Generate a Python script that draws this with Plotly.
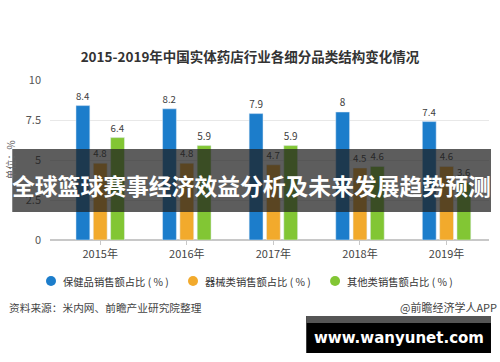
import plotly.graph_objects as go

years = ["2015年", "2016年", "2017年", "2018年", "2019年"]
health = [8.4, 8.2, 7.9, 8.0, 7.4]
device = [4.8, 4.8, 4.7, 4.5, 4.6]
other = [6.4, 5.9, 5.9, 4.6, 3.6]
names = ["保健品销售额占比 ( % )", "器械类销售额占比 ( % )", "其他类销售额占比 ( % )"]
colors = ["#1c7dcb", "#f2aa2c", "#82c634"]
y_ticks = [0, 2.5, 5, 7.5, 10]

FONT = "Noto Sans CJK SC"
L, T, W, H = 47, 80, 442, 160


def px(x):
    return (x - L) / W


def py(y):
    return (T + H - y) / H


fig = go.Figure()
for vals, nm, col in zip([health, device, other], names, colors):
    fig.add_trace(go.Bar(
        x=years, y=vals, name=nm, marker_color=col, showlegend=False,
        text=[f"{v:g}" for v in vals], textposition="outside", cliponaxis=False,
        textfont=dict(family=FONT, size=10, color="#404040"),
    ))

fig.update_layout(
    width=500, height=362,
    margin=dict(l=L, r=500 - L - W, t=T, b=362 - T - H),
    paper_bgcolor="white", plot_bgcolor="white",
    font=dict(family=FONT, color="#333"),
    barmode="group", bargap=0.4, bargroupgap=0.2,
    title=dict(text="<b>2015-2019年中国实体药店行业各细分品类结构变化情况</b>",
               x=0.5, xanchor="center", y=1 - 57 / 362, yanchor="middle",
               font=dict(family=FONT, size=13.5, color="#333")),
    showlegend=False,
    xaxis=dict(range=[-0.58, 4.49], showline=True, linecolor="#c8c8c8", ticks="outside",
               ticklen=4, tickcolor="#c8c8c8",
               tickfont=dict(family=FONT, size=11, color="#444"), showgrid=False),
    yaxis=dict(range=[0, 10], tickvals=y_ticks, ticktext=[f"{v:g}" for v in y_ticks],
               showgrid=True, gridcolor="#e8e8e8", zeroline=True, zerolinecolor="#c8c8c8",
               tickfont=dict(family=FONT, size=11, color="#555"), ticklabelstandoff=8,
               title=dict(text="单位：%", font=dict(family=FONT, size=10, color="#666"),
                          standoff=8)),
)

# legend (circle swatches + labels)
legend_marker_x = [48, 191, 334]
for mx, nm, col in zip(legend_marker_x, names, colors):
    fig.add_shape(type="circle", xref="paper", yref="paper", xsizemode="pixel", ysizemode="pixel",
                  xanchor=px(mx), yanchor=py(281), x0=-5, x1=5, y0=-5, y1=5,
                  line_width=0, fillcolor=col)
    fig.add_annotation(text=nm, xref="paper", yref="paper", x=px(mx + 10), y=py(281),
                       xanchor="left", yanchor="middle", showarrow=False,
                       font=dict(family=FONT, size=10.3, color="#333"))

fig.add_annotation(text="资料来源：米内网、前瞻产业研究院整理", xref="paper", yref="paper",
                   x=px(4), y=py(307), xanchor="left", yanchor="middle", showarrow=False,
                   font=dict(family=FONT, size=10.7, color="#444"))
fig.add_annotation(text="@前瞻经济学人APP", xref="paper", yref="paper",
                   x=px(499), y=py(307), xanchor="right", yanchor="middle", showarrow=False,
                   font=dict(family=FONT, size=11, color="#444"))

# overlay banner
fig.add_shape(type="rect", xref="paper", yref="paper", layer="above",
              x0=px(9), x1=px(491), y0=py(212), y1=py(149),
              line_width=0, fillcolor="rgba(30,30,30,0.72)")
fig.add_annotation(text="<b>全球篮球赛事经济效益分析及未来发展趋势预测</b>", xref="paper", yref="paper",
                   x=px(250), y=py(185), xanchor="center", yanchor="middle",
                   showarrow=False, font=dict(family=FONT, size=22.8, color="white"))

# bottom badge
fig.add_shape(type="rect", xref="paper", yref="paper", layer="above",
              x0=px(305), x1=px(491), y0=py(353), y1=py(316),
              line_width=0, fillcolor="black")
fig.add_shape(type="rect", xref="paper", yref="paper", layer="above",
              x0=px(305), x1=px(491), y0=py(323), y1=py(316),
              line_width=0, fillcolor="#555555")
fig.add_annotation(text="<b>www.wanyunet.com</b>", xref="paper", yref="paper",
                   x=px(398), y=py(338), xanchor="center", yanchor="middle",
                   showarrow=False, font=dict(family="DejaVu Sans", size=15, color="white"))

fig.write_html("out.html", config={"displayModeBar": False},
               post_script="document.body.style.margin='0';document.body.style.padding='0';")
